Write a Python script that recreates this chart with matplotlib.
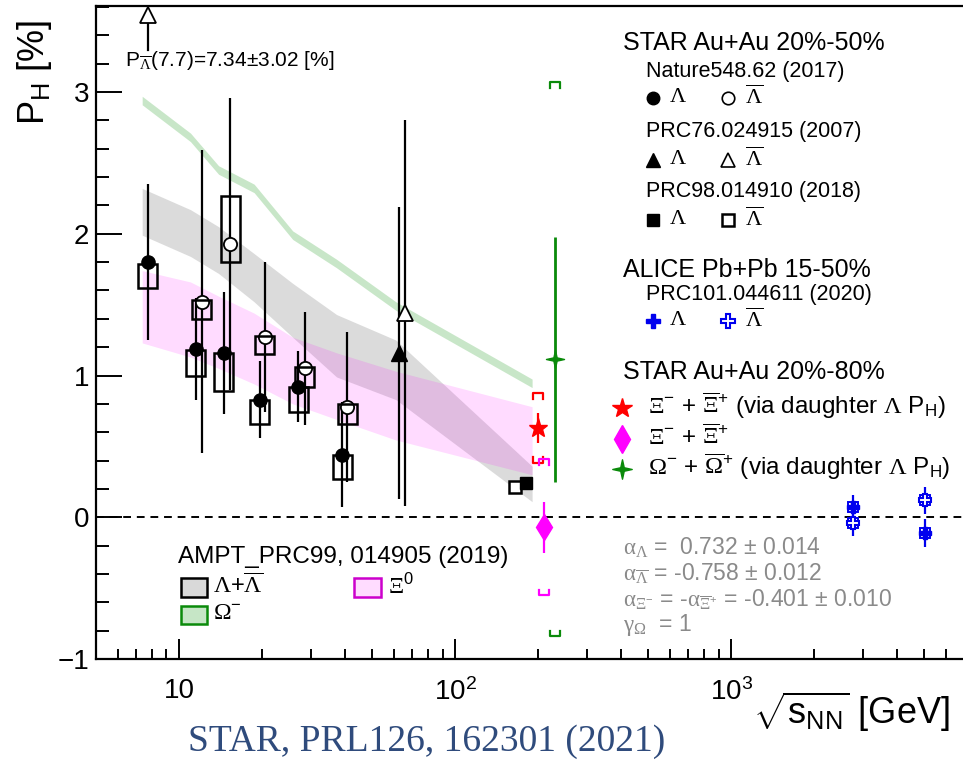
import numpy as np
import matplotlib
matplotlib.use("Agg")
import matplotlib.pyplot as plt
from matplotlib.path import Path
from matplotlib.patches import Rectangle
from matplotlib.lines import Line2D
from matplotlib.ticker import FixedLocator, FixedFormatter, NullFormatter

plt.rcParams['font.family'] = ['Liberation Sans', 'DejaVu Sans']
plt.rcParams['mathtext.fontset'] = 'custom'
plt.rcParams['mathtext.rm'] = 'Liberation Sans'
plt.rcParams['mathtext.it'] = 'Liberation Sans:italic'
plt.rcParams['mathtext.bf'] = 'Liberation Sans:bold'
plt.rcParams['mathtext.sf'] = 'Liberation Serif'

# ---------------- data ----------------
# STAR Nature548.62 (2017) Lambda / anti-Lambda
lam_x = [7.7, 11.5, 14.5, 19.6, 27.0, 39.0]
lam_y = [1.80, 1.19, 1.16, 0.83, 0.92, 0.44]
lam_stat = [0.55, 0.36, 0.43, 0.27, 0.25, 0.37]
lam_sys_lo = [1.62, 1.00, 0.89, 0.66, 0.74, 0.27]
lam_sys_hi = [1.79, 1.18, 1.16, 0.83, 0.92, 0.44]

alam_x = [12.1, 15.3, 20.4, 28.5, 40.7]
alam_y = [1.52, 1.93, 1.27, 1.05, 0.78]
alam_stat = [1.07, 1.03, 0.53, 0.40, 0.53]
alam_sys_lo = [1.40, 1.80, 1.15, 0.92, 0.66]
alam_sys_hi = [1.53, 2.27, 1.28, 1.06, 0.80]

alam77_x = 7.7
alam77_y = 7.34
alam77_err = 3.02

# STAR PRC76.024915 (2007)
tri_lam_x = [62.4]
tri_lam_y = [1.16]
tri_lam_err = [1.03]
tri_alam_x = [66.0]
tri_alam_y = [1.44]
tri_alam_err = [1.36]

# STAR PRC98.014910 (2018)
sq_lam_x = [180.0]
sq_lam_y = [0.24]
sq_alam_x = [165.0]
sq_alam_y = [0.21]

# STAR Au+Au 20-80% multistrange
xi_d_x, xi_d_y, xi_d_stat, xi_d_sys = 200.0, 0.63, 0.105, 0.245
xi_x, xi_y, xi_stat, xi_sys = 210.0, -0.07, 0.18, 0.48
om_x, om_y, om_stat, om_sys = 230.0, 1.115, 0.865, 1.955

# ALICE Pb+Pb 15-50%
alice_x = [2760.0, 5020.0]
alice_lam_y = [0.07, -0.11]
alice_lam_err = [0.09, 0.10]
alice_alam_y = [-0.04, 0.12]
alice_alam_err = [0.09, 0.095]
alice_sys = [0.035, 0.035]

# AMPT bands
ampt_x = [7.35, 11.0, 13.9, 18.7, 25.8, 37.2, 61.0, 190.0]
lam_band_hi = [2.32, 2.17, 2.05, 1.86, 1.65, 1.43, 1.25, 0.36]
lam_band_lo = [1.99, 1.84, 1.72, 1.52, 1.27, 0.99, 0.83, 0.11]
xi_band_hi = [1.74, 1.66, 1.56, 1.44, 1.27, 1.16, 1.03, 0.78]
xi_band_lo = [1.23, 1.13, 1.05, 0.94, 0.80, 0.69, 0.545, 0.30]
om_band_hi = [2.97, 2.71, 2.48, 2.35, 2.02, 1.82, 1.52, 0.975]
om_band_lo = [2.91, 2.65, 2.42, 2.29, 1.96, 1.76, 1.46, 0.915]

x_ticks = [10, 100, 1000]
x_ticklabels = ['10', r'$\mathregular{10^{2}}$', r'$\mathregular{10^{3}}$']
y_ticks = [-1, 0, 1, 2, 3]
y_ticklabels = ['\u22121', '0', '1', '2', '3']

# ---------------- figure ----------------
W, H = 963, 761
fig = plt.figure(figsize=(W / 100, H / 100), dpi=100)
ax = fig.add_axes([96 / W, 1 - 659 / H, (963 - 96) / W, (659 - 6) / H])
ax.set_xscale('log')
ax.set_xlim(5.0, 6914)
ax.set_ylim(-1, 3.607)

def fx(px):
    return px / W

def fy(py):
    return 1 - py / H

# bands
ax.fill_between(ampt_x, lam_band_lo, lam_band_hi, color='#7f7f7f', alpha=0.28, lw=0, zorder=1)
ax.fill_between(ampt_x, xi_band_lo, xi_band_hi, color='#ff00ff', alpha=0.14, lw=0, zorder=1.1)
ax.fill_between(ampt_x, om_band_lo, om_band_hi, color='#1a9a1a', alpha=0.24, lw=0, zorder=1.2)

# zero line
ax.axhline(0, color='black', lw=1.4, ls=(0, (4, 3)), zorder=2)

EW = 1.6
ekw = dict(fmt='none', ecolor='black', elinewidth=EW, capsize=0, zorder=3)
ax.errorbar(lam_x, lam_y, yerr=lam_stat, **ekw)
ax.errorbar(alam_x, alam_y, yerr=alam_stat, **ekw)
ax.errorbar(tri_lam_x, tri_lam_y, yerr=tri_lam_err, **ekw)
ax.errorbar(tri_alam_x, tri_alam_y, yerr=tri_alam_err, **ekw)

# off-scale anti-Lambda at 7.7
ylo, yhi = ax.get_ylim()
if alam77_y > yhi:
    ax.plot([alam77_x, alam77_x], [yhi - 0.1, yhi - 0.31], color='black', lw=EW, zorder=3)
    ax.plot([alam77_x], [yhi - 0.065], marker='^', ms=12, mfc='white', mec='black', mew=1.3,
            clip_on=False, zorder=6)

# open markers
ax.plot(alam_x, alam_y, 'o', ms=9.5, mfc='white', mec='black', mew=1.3, zorder=4, ls='none')
ax.plot(tri_alam_x, tri_alam_y, '^', ms=11, mfc='white', mec='black', mew=1.3, zorder=4, ls='none')
ax.plot(sq_alam_x, sq_alam_y, 's', ms=9, mfc='white', mec='black', mew=1.8, zorder=4, ls='none')

# systematic boxes
bw = 10 ** (9.5 / 276.3)
for xv, lo, hi in list(zip(lam_x, lam_sys_lo, lam_sys_hi)) + list(zip(alam_x, alam_sys_lo, alam_sys_hi)):
    ax.add_patch(Rectangle((xv / bw, lo), xv * bw - xv / bw, hi - lo, fill=False,
                           ec='black', lw=1.8, zorder=5))

# filled markers
ax.plot(lam_x, lam_y, 'o', ms=9.5, color='black', zorder=6, ls='none')
ax.plot(tri_lam_x, tri_lam_y, '^', ms=11, color='black', zorder=6, ls='none')
ax.plot(sq_lam_x, sq_lam_y, 's', ms=9, color='black', zorder=6, ls='none')

# brackets for systematics
def bracket(xv, yv, sys, color):
    f = 10 ** (5 / 276.3)
    t = 0.04
    top = yv + sys
    bot = yv - sys
    ax.plot([xv / f, xv / f, xv * f, xv * f], [top - t, top, top, top - t], color=color, lw=1.6, zorder=5)
    ax.plot([xv / f, xv / f, xv * f, xv * f], [bot + t, bot, bot, bot + t], color=color, lw=1.6, zorder=5)

star4 = Path([(0, 1), (0.18, 0.18), (1, 0), (0.18, -0.18), (0, -1), (-0.18, -0.18), (-1, 0), (-0.18, 0.18), (0, 1)],
             [Path.MOVETO] + [Path.LINETO] * 7 + [Path.CLOSEPOLY])

ax.errorbar([xi_d_x], [xi_d_y], yerr=[xi_d_stat], fmt='none', ecolor='red', elinewidth=EW, zorder=3)
bracket(xi_d_x, xi_d_y, xi_d_sys, 'red')
ax.plot([xi_d_x], [xi_d_y], marker='*', ms=14, color='red', ls='none', zorder=6)

ax.errorbar([xi_x], [xi_y], yerr=[xi_stat], fmt='none', ecolor='magenta', elinewidth=EW, zorder=3)
bracket(xi_x, xi_y, xi_sys, 'magenta')
ax.plot([xi_x], [xi_y], marker='d', ms=13, color='magenta', ls='none', zorder=6)

ax.errorbar([om_x], [om_y], yerr=[om_stat], fmt='none', ecolor='#0a8a0a', elinewidth=EW + 0.4, zorder=3)
bracket(om_x, om_y, om_sys, '#0a8a0a')
ax.plot([om_x], [om_y], marker=star4, ms=13, color='#0a8a0a', ls='none', zorder=6)

# ALICE
BLUE = '#0000ee'
ax.errorbar(alice_x, alice_lam_y, yerr=alice_lam_err, fmt='none', ecolor=BLUE, elinewidth=EW, zorder=3)
ax.errorbar(alice_x, alice_alam_y, yerr=alice_alam_err, fmt='none', ecolor=BLUE, elinewidth=EW, zorder=3)
sb = 10 ** (5 / 276.3)
for xv, yl, ya, s in zip(alice_x, alice_lam_y, alice_alam_y, alice_sys):
    for yv in (yl, ya):
        ax.add_patch(Rectangle((xv / sb, yv - s), xv * sb - xv / sb, 2 * s, fill=False, ec=BLUE, lw=1.4, zorder=5))
ax.plot(alice_x, alice_lam_y, 'P', ms=9, color=BLUE, ls='none', zorder=6)
ax.plot(alice_x, alice_alam_y, 'P', ms=9, mfc='white', mec=BLUE, mew=1.5, ls='none', zorder=6)

# axes styling
for s in ['left', 'bottom', 'top']:
    ax.spines[s].set_linewidth(1.6)
ax.spines['right'].set_visible(False)
ax.xaxis.set_major_locator(FixedLocator(x_ticks))
ax.xaxis.set_major_formatter(FixedFormatter(x_ticklabels))
minors = [m * 10 ** d for d in range(0, 4) for m in range(2, 10)]
ax.xaxis.set_minor_locator(FixedLocator(minors))
ax.xaxis.set_minor_formatter(NullFormatter())
ax.yaxis.set_major_locator(FixedLocator(y_ticks))
ax.yaxis.set_major_formatter(FixedFormatter(y_ticklabels))
ax.yaxis.set_minor_locator(FixedLocator(np.arange(-1, 3.61, 0.2)))
ax.tick_params(axis='x', which='major', direction='in', length=14.4, width=1.4, labelsize=20, pad=14, top=False)
ax.tick_params(axis='x', which='minor', direction='in', length=7.2, width=1.4, top=False)
ax.tick_params(axis='y', which='major', direction='in', length=18.7, width=1.4, labelsize=20, pad=5, right=False)
ax.tick_params(axis='y', which='minor', direction='in', length=9.4, width=1.4, right=False)

# axis titles
fig.text(fx(35), fy(72), 'P$_{\\mathrm{H}}$ [%]', rotation=90, ha='center', va='center', fontsize=26)
fig.text(fx(950), fy(712), r'$\sqrt{\mathrm{s}_{\mathrm{NN}}}$ [GeV]', ha='right', va='center', fontsize=26)

# top-left annotation
fig.text(fx(125), fy(60), r'P$_{\overline{\mathsf{\Lambda}}}$(7.7)=7.34$\pm$3.02 [%]', ha='left', va='center', fontsize=15)

# right legend
def mk(px, py, **kw):
    ax.add_artist(Line2D([fx(px)], [fy(py)], transform=fig.transFigure, ls='none', clip_on=False, **kw))

def txt(px, py, s, size, **kw):
    fig.text(fx(px), fy(py), s, ha='left', va='center', fontsize=size, **kw)

LAM = r'$\mathsf{\Lambda}$'
ALAM = r'$\overline{\mathsf{\Lambda}}$'
txt(623, 43, 'STAR Au+Au 20%-50%', 18)
txt(646, 71, 'Nature548.62 (2017)', 15.5)
mk(653, 98, marker='o', ms=9, color='black')
txt(669, 97, LAM, 16)
mk(728, 98, marker='o', ms=9, mfc='white', mec='black', mew=1.2)
txt(745, 97, ALAM, 16)
txt(646, 132, 'PRC76.024915 (2007)', 15.5)
mk(653, 160, marker='^', ms=10, color='black')
txt(669, 159, LAM, 16)
mk(728, 160, marker='^', ms=10, mfc='white', mec='black', mew=1.2)
txt(745, 159, ALAM, 16)
txt(646, 192, 'PRC98.014910 (2018)', 15.5)
mk(653, 220, marker='s', ms=9, color='black')
txt(669, 219, LAM, 16)
mk(728, 220, marker='s', ms=8.5, mfc='white', mec='black', mew=1.8)
txt(745, 219, ALAM, 16)
txt(623, 270, 'ALICE Pb+Pb 15-50%', 18)
txt(646, 295, 'PRC101.044611 (2020)', 15.5)
mk(653, 321, marker='P', ms=10, color=BLUE)
txt(669, 320, LAM, 16)
mk(728, 321, marker='P', ms=10, mfc='white', mec=BLUE, mew=1.5)
txt(745, 320, ALAM, 16)
txt(623, 372, 'STAR Au+Au 20%-80%', 18)
mk(622, 408, marker='*', ms=15, color='red')
txt(648, 406, r'$\mathsf{\Xi}^{-}$ + $\overline{\mathsf{\Xi}}^{+}$ (via daughter $\mathsf{\Lambda}$ P$_{\mathrm{H}}$)', 17.5)
mk(622, 439, marker='d', ms=14, color='magenta')
txt(648, 437, r'$\mathsf{\Xi}^{-}$ + $\overline{\mathsf{\Xi}}^{+}$', 17.5)
mk(622, 469, marker=star4, ms=14, color='#0a8a0a')
txt(648, 467, r'$\mathsf{\Omega}^{-}$ + $\overline{\mathsf{\Omega}}^{+}$ (via daughter $\mathsf{\Lambda}$ P$_{\mathrm{H}}$)', 17.5)

# alpha constants
GREY = '#8a8a8a'
txt(623, 548, r'$\mathsf{\alpha}_{\mathsf{\Lambda}}$ =  0.732 $\pm$ 0.014', 16.5, color=GREY)
txt(623, 574, r'$\mathsf{\alpha}_{\overline{\mathsf{\Lambda}}}$ = -0.758 $\pm$ 0.012', 16.5, color=GREY)
txt(623, 600, r'$\mathsf{\alpha}_{\mathsf{\Xi}^{-}}$ = -$\mathsf{\alpha}_{\overline{\mathsf{\Xi}}^{+}}$ = -0.401 $\pm$ 0.010', 16.5, color=GREY)
txt(623, 625, r'$\mathsf{\gamma}_{\mathsf{\Omega}}$  = 1', 16.5, color=GREY)

# AMPT legend
txt(178, 557, 'AMPT_PRC99, 014905 (2019)', 17.5)
def box(x0, y0, x1, y1, fc, ec):
    fig.add_artist(Rectangle((fx(x0), fy(y1)), fx(x1) - fx(x0), fy(y0) - fy(y1), transform=fig.transFigure,
                             fc=fc, ec=ec, lw=1.8))
box(181, 578, 207, 597, '#d9d9d9', 'black')
box(354, 578, 381, 597, '#ffdcff', '#cc00cc')
box(181, 606, 207, 624, '#c6e6c6', '#0a8a0a')
txt(213, 586, r'$\mathsf{\Lambda}$+$\overline{\mathsf{\Lambda}}$', 17)
txt(388, 586, r'$\mathsf{\Xi}^{0}$', 17)
txt(213, 614, r'$\mathsf{\Omega}^{-}$', 17)

# citation
fig.text(fx(665), fy(751), 'STAR, PRL126, 162301 (2021)', ha='right', va='baseline', fontsize=27,
         family=['Liberation Serif', 'DejaVu Serif'], color='#2f4b7c')

fig.savefig('out.png', dpi=100)
